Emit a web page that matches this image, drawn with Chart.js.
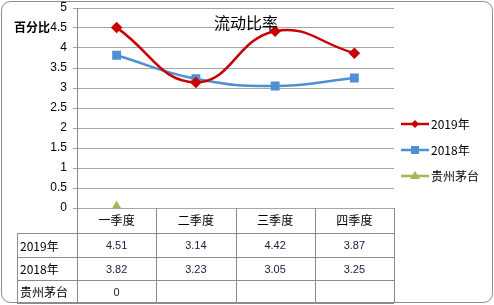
<!DOCTYPE html>
<html>
<head>
<meta charset="utf-8">
<script src="https://cdn.jsdelivr.net/npm/chart.js@4"></script>
<style>
  html, body { margin: 0; padding: 0; background: #fff; }
  #wrap { width: 494px; height: 305px; position: relative; }
</style>
</head>
<body>
<div id="wrap"><canvas id="grafico"></canvas></div>
<script>
// ======== DADOS ========
const quarters = ['一季度', '二季度', '三季度', '四季度'];
const seriesNames = ['2019年', '2018年', '贵州茅台'];
const values2019 = [4.51, 3.14, 4.42, 3.87];
const values2018 = [3.82, 3.23, 3.05, 3.25];
const valuesMaotai = [0, null, null, null];
const tableText2019 = ['4.51', '3.14', '4.42', '3.87'];
const tableText2018 = ['3.82', '3.23', '3.05', '3.25'];
const tableTextMaotai = ['0', '', '', ''];

const colors = ['#c80000', '#4f8fd3', '#9bbb59'];
const cjk = '"Noto Sans CJK SC", sans-serif';
const latin = '"Liberation Sans", Arial, sans-serif';

// table, legend, title and frame drawn after the chart
const extras = {
  id: 'extras',
  afterDraw(chart) {
    const ctx = chart.ctx;
    const area = chart.chartArea;
    const x = chart.scales.x;
    const left = area.left, right = area.right, bottom = area.bottom;
    const rowLines = [bottom + 25, bottom + 49, bottom + 72, bottom + 95];
    const tableLeft = 17;

    ctx.save();
    ctx.strokeStyle = '#8c8c8c';
    ctx.lineWidth = 1;

    // horizontal lines
    rowLines.forEach(y => {
      ctx.beginPath();
      ctx.moveTo(tableLeft, y + 0.5);
      ctx.lineTo(right, y + 0.5);
      ctx.stroke();
    });
    // left border of labels
    ctx.beginPath();
    ctx.moveTo(tableLeft + 0.5, rowLines[0]);
    ctx.lineTo(tableLeft + 0.5, rowLines[3]);
    ctx.stroke();

    // vertical category boundaries
    const bounds = [left];
    for (let i = 0; i < quarters.length - 1; i++) {
      bounds.push((x.getPixelForValue(i) + x.getPixelForValue(i + 1)) / 2);
    }
    bounds.push(right);
    bounds.forEach(bx => {
      ctx.beginPath();
      ctx.moveTo(Math.round(bx) + 0.5, bottom);
      ctx.lineTo(Math.round(bx) + 0.5, rowLines[3]);
      ctx.stroke();
    });

    // header labels
    ctx.fillStyle = '#000';
    ctx.textAlign = 'center';
    ctx.textBaseline = 'middle';
    ctx.font = '12px ' + cjk;
    quarters.forEach((q, i) => {
      ctx.fillText(q, x.getPixelForValue(i), bottom + 12);
    });

    // rows
    const rows = [tableText2019, tableText2018, tableTextMaotai];
    rows.forEach((row, r) => {
      const cy = (rowLines[r] + rowLines[r + 1]) / 2 + 1;
      ctx.textAlign = 'left';
      ctx.fillStyle = '#000';
      ctx.font = '12px ' + cjk;
      ctx.fillText(seriesNames[r], tableLeft + 3, cy);
      ctx.textAlign = 'center';
      ctx.fillStyle = '#1a1a40';
      ctx.font = '11px ' + latin;
      row.forEach((t, i) => {
        if (t) ctx.fillText(t, x.getPixelForValue(i), cy);
      });
    });

    // legend
    const legY = [124, 150, 176];
    seriesNames.forEach((name, i) => {
      const y = legY[i];
      ctx.strokeStyle = colors[i];
      ctx.fillStyle = colors[i];
      ctx.lineWidth = 2.5;
      ctx.beginPath();
      ctx.moveTo(401, y);
      ctx.lineTo(429, y);
      ctx.stroke();
      const mx = 415;
      ctx.beginPath();
      if (i === 0) {
        ctx.moveTo(mx, y - 4); ctx.lineTo(mx + 4, y); ctx.lineTo(mx, y + 4); ctx.lineTo(mx - 4, y);
      } else if (i === 1) {
        ctx.rect(mx - 4, y - 4, 8, 8);
      } else {
        ctx.moveTo(mx, y - 5); ctx.lineTo(mx + 5, y + 3); ctx.lineTo(mx - 5, y + 3);
      }
      ctx.closePath();
      ctx.fill();
      ctx.fillStyle = '#000';
      ctx.textAlign = 'left';
      ctx.font = '12px ' + cjk;
      ctx.fillText(name, 431, y);
    });

    // title and axis label
    ctx.fillStyle = '#000';
    ctx.textAlign = 'center';
    ctx.font = '16px ' + cjk;
    ctx.fillText('流动比率', 246, 23);
    ctx.textAlign = 'left';
    ctx.font = 'bold 12px ' + cjk;
    ctx.fillText('百分比', 14, 27);

    // outer frame
    ctx.strokeStyle = '#8c8c8c';
    ctx.lineWidth = 1;
    ctx.beginPath();
    ctx.roundRect(1.5, 1.5, 491, 301, 9);
    ctx.stroke();
    ctx.restore();
  }
};

new Chart(document.getElementById('grafico'), {
  type: 'line',
  data: {
    labels: quarters,
    datasets: [
      {
        label: seriesNames[0],
        data: values2019,
        borderColor: colors[0],
        backgroundColor: colors[0],
        borderWidth: 2.5,
        pointStyle: 'rectRot',
        pointRadius: 4,
        tension: 0.45
      },
      {
        label: seriesNames[1],
        data: values2018,
        borderColor: colors[1],
        backgroundColor: colors[1],
        borderWidth: 2.5,
        pointStyle: 'rect',
        pointRadius: 4.5,
        tension: 0.45
      },
      {
        label: seriesNames[2],
        data: valuesMaotai,
        borderColor: colors[2],
        backgroundColor: colors[2],
        borderWidth: 2.5,
        pointStyle: 'triangle',
        pointRadius: 5
      }
    ]
  },
  options: {
    responsive: true,
    maintainAspectRatio: false,
    animation: false,
    layout: { padding: { left: 0, right: 100, top: 8, bottom: 0 } },
    plugins: {
      legend: { display: false },
      title: { display: false },
      tooltip: { enabled: false }
    },
    scales: {
      x: {
        offset: true,
        grid: { display: false },
        border: { display: false },
        ticks: { display: false },
        afterFit: s => { s.height = 97; }
      },
      y: {
        min: 0,
        max: 5,
        ticks: {
          stepSize: 0.5,
          color: '#000',
          font: { family: '"Liberation Sans", Arial, sans-serif', size: 12 },
          padding: 6,
          callback: v => String(v)
        },
        grid: { color: '#a6a6a6', tickLength: 4 },
        border: { color: '#8c8c8c' },
        afterFit: s => { s.width = 77; s.paddingTop = 0; }
      }
    }
  },
  plugins: [extras]
});
</script>
</body>
</html>
